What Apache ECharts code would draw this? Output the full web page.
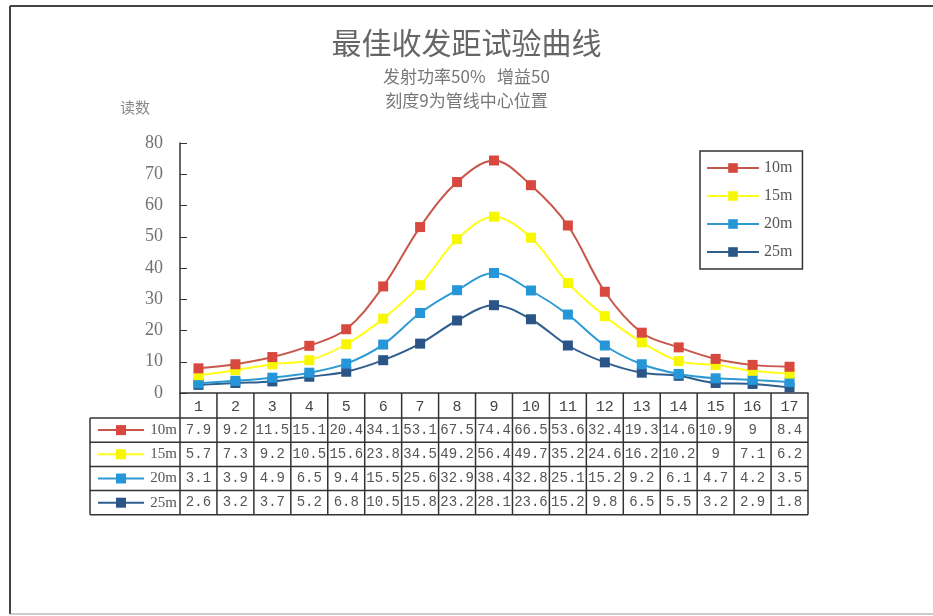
<!DOCTYPE html>
<html>
<head>
<meta charset="utf-8">
<script src="https://cdn.jsdelivr.net/npm/echarts@6/dist/echarts.min.js"></script>
<style>
  html, body { margin: 0; padding: 0; background: #fff; }
  #chart { width: 933px; height: 616px; }
</style>
</head>
<body>
<div id="chart"></div>
<script>
// Scale positions along the pipe (9 = pipe centre)
const positions = ['1','2','3','4','5','6','7','8','9','10','11','12','13','14','15','16','17'];
const seriesNames = ['10m', '15m', '20m', '25m'];
const r10 = [7.9, 9.2, 11.5, 15.1, 20.4, 34.1, 53.1, 67.5, 74.4, 66.5, 53.6, 32.4, 19.3, 14.6, 10.9, 9, 8.4];
const r15 = [5.7, 7.3, 9.2, 10.5, 15.6, 23.8, 34.5, 49.2, 56.4, 49.7, 35.2, 24.6, 16.2, 10.2, 9, 7.1, 6.2];
const r20 = [3.1, 3.9, 4.9, 6.5, 9.4, 15.5, 25.6, 32.9, 38.4, 32.8, 25.1, 15.2, 9.2, 6.1, 4.7, 4.2, 3.5];
const r25 = [2.6, 3.2, 3.7, 5.2, 6.8, 10.5, 15.8, 23.2, 28.1, 23.6, 15.2, 9.8, 6.5, 5.5, 3.2, 2.9, 1.8];
const readings = [r10, r15, r20, r25];

const lineColors = ['#c8564a', '#ffff1a', '#2e9ad3', '#2f5f8e'];
const markColors = ['#d9483e', '#f7f700', '#2597d9', '#2b5587'];
const serif = '"Liberation Serif", "Noto Sans CJK SC", serif';
const cjk = '"Noto Sans CJK SC", sans-serif';
const mono = '"Liberation Mono", "DejaVu Sans Mono", monospace';

const chart = echarts.init(document.getElementById('chart'));

const option = {
  backgroundColor: '#ffffff',
  animation: false,
  title: [
    { text: '最佳收发距试验曲线', left: 'center', top: 23,
      textStyle: { fontFamily: cjk, fontSize: 30, fontWeight: 'normal', color: '#666' } },
    { text: '发射功率50%   增益50', left: 'center', top: 63,
      textStyle: { fontFamily: cjk, fontSize: 17, fontWeight: 'normal', color: '#777' } },
    { text: '刻度9为管线中心位置', left: 'center', top: 87,
      textStyle: { fontFamily: cjk, fontSize: 17, fontWeight: 'normal', color: '#777' } }
  ],
  legend: {
    orient: 'vertical',
    left: 700, top: 151,
    data: seriesNames,
    itemWidth: 52, itemHeight: 12, itemGap: 12,
    padding: [9, 10, 9, 6],
    borderColor: '#333', borderWidth: 1.5,
    textStyle: { fontFamily: serif, fontSize: 16, color: '#555' }
  },
  grid: { left: 180, top: 143, width: 628, height: 250, containLabel: false },
  xAxis: {
    type: 'category',
    data: positions,
    boundaryGap: true,
    axisLine: { lineStyle: { color: '#333', width: 1.5 } },
    axisTick: { show: false },
    axisLabel: { margin: 7, fontFamily: mono, fontSize: 15, color: '#444', interval: 0 }
  },
  yAxis: {
    type: 'value',
    min: 0, max: 80, interval: 10,
    name: '读数',
    nameLocation: 'end',
    nameGap: 28,
    nameTextStyle: { fontFamily: cjk, fontSize: 15, color: '#888', align: 'right', padding: [0, 30, 0, 0] },
    axisLine: { show: true, lineStyle: { color: '#333', width: 1.5 } },
    axisTick: { show: true, inside: true, length: 7, lineStyle: { color: '#333' } },
    axisLabel: { margin: 17, fontFamily: serif, fontSize: 18, color: '#707070' },
    splitLine: { show: false }
  },
  series: seriesNames.map((name, i) => ({
    name,
    type: 'line',
    data: readings[i],
    smooth: 0.35,
    symbol: 'rect',
    symbolSize: 10,
    lineStyle: { color: lineColors[i], width: 2 },
    itemStyle: { color: markColors[i] },
    z: 10 - i
  }))
};
chart.setOption(option);

// Data table under the plot, aligned to the category axis
function buildTable() {
  const p0 = chart.convertToPixel({ xAxisIndex: 0 }, 0);
  const p1 = chart.convertToPixel({ xAxisIndex: 0 }, 1);
  const step = p1 - p0;
  const left = p0 - step / 2;
  const right = left + step * positions.length;
  const top = chart.convertToPixel({ yAxisIndex: 0 }, 0);
  const rowH = 24.2;
  const headBottom = top + 25;
  const tableLeft = 90;
  const stroke = { stroke: '#333', lineWidth: 1.5 };
  const els = [];

  // horizontal rules
  for (let r = 0; r <= seriesNames.length; r++) {
    const y = headBottom + r * rowH;
    els.push({ type: 'line', shape: { x1: tableLeft, y1: y, x2: right, y2: y }, style: stroke });
  }
  // vertical rules
  const bottom = headBottom + seriesNames.length * rowH;
  for (let c = 0; c <= positions.length; c++) {
    const x = left + c * step;
    els.push({ type: 'line', shape: { x1: x, y1: top, x2: x, y2: bottom }, style: stroke });
  }
  els.push({ type: 'line', shape: { x1: tableLeft, y1: headBottom, x2: tableLeft, y2: bottom }, style: stroke });

  // rows: legend key + values
  seriesNames.forEach((name, r) => {
    const cy = headBottom + r * rowH + rowH / 2;
    els.push({ type: 'line', shape: { x1: 98, y1: cy, x2: 144, y2: cy },
      style: { stroke: lineColors[r], lineWidth: 2 } });
    els.push({ type: 'rect', shape: { x: 116, y: cy - 5, width: 10, height: 10 },
      style: { fill: markColors[r] } });
    els.push({ type: 'text', style: { text: name, x: 177, y: cy, textAlign: 'right',
      textVerticalAlign: 'middle', font: '15px ' + serif, fill: '#555' } });
    readings[r].forEach((v, c) => {
      els.push({ type: 'text', style: { text: String(v), x: left + (c + 0.5) * step, y: cy,
        textAlign: 'center', textVerticalAlign: 'middle', font: '14px ' + mono, fill: '#555' } });
    });
  });

  // page frame
  els.push({ type: 'line', shape: { x1: 10, y1: 6, x2: 933, y2: 6 }, style: { stroke: '#444', lineWidth: 2 } });
  els.push({ type: 'line', shape: { x1: 10, y1: 6, x2: 10, y2: 614 }, style: { stroke: '#444', lineWidth: 2 } });
  els.push({ type: 'line', shape: { x1: 10, y1: 614, x2: 933, y2: 614 }, style: { stroke: '#999', lineWidth: 1 } });

  chart.setOption({ graphic: { elements: els } });
}
buildTable();
</script>
</body>
</html>
